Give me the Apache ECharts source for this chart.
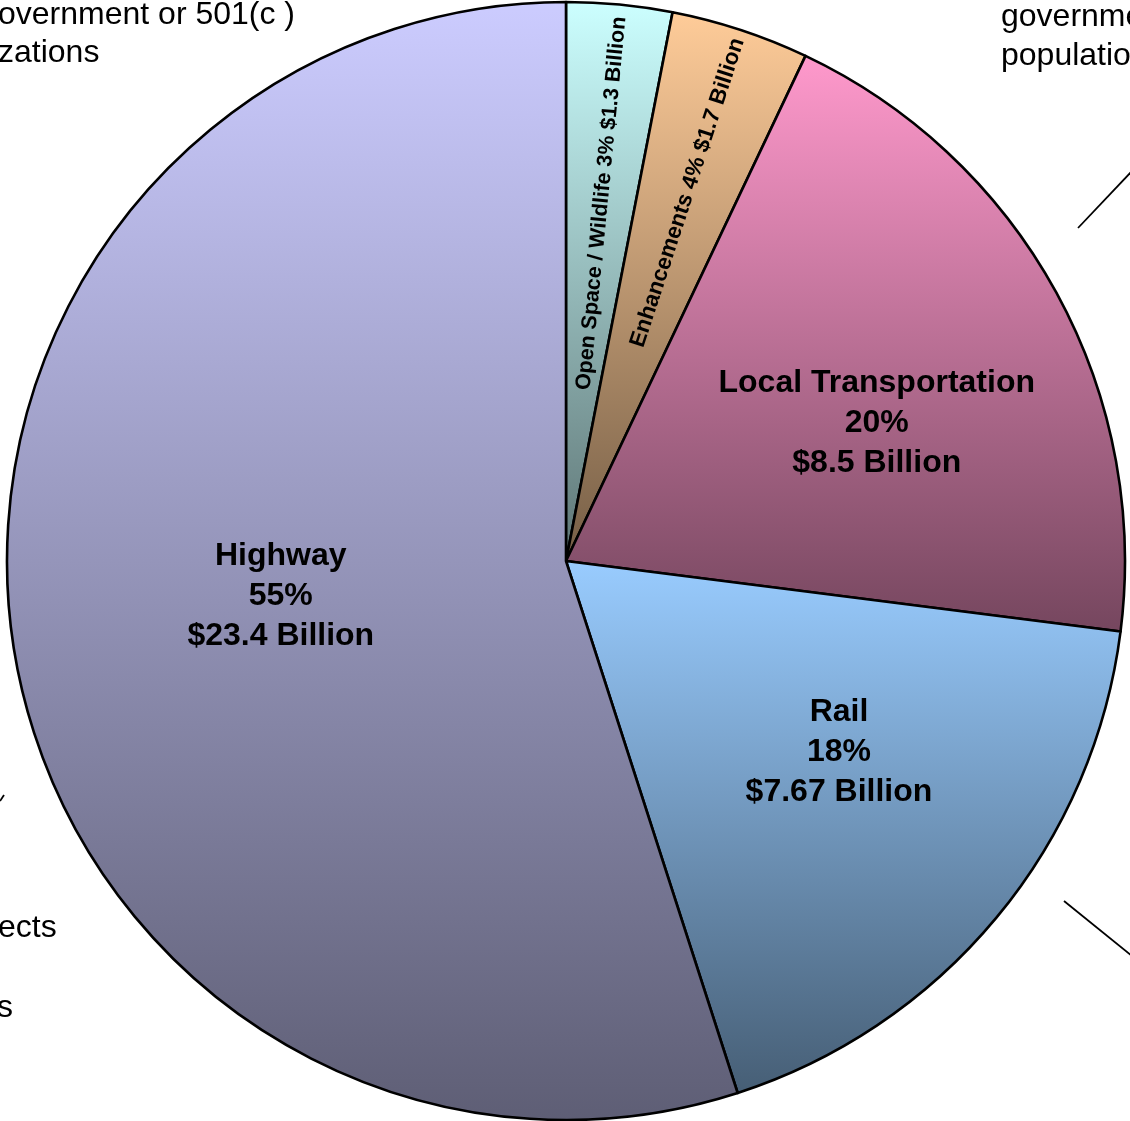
<!DOCTYPE html>
<html>
<head>
<meta charset="utf-8">
<script src="https://cdn.jsdelivr.net/npm/echarts@6/dist/echarts.min.js"></script>
<style>
  html, body { margin: 0; padding: 0; background: #fff; }
  #pie-chart { width: 1130px; height: 1121px; }
</style>
</head>
<body>
<div id="pie-chart"></div>
<script>
// slices, clockwise from 12 o'clock
var categories = ['Open Space / Wildlife', 'Enhancements', 'Local Transportation', 'Rail', 'Highway'];
var billions = [1.3, 1.7, 8.5, 7.67, 23.4];
var percents = [3, 4, 20, 18, 55];

var lightColors = ['#CCFFFF', '#FFCC99', '#FF99CC', '#99CCFF', '#CCCCFF'];
var darkColors = ['#5E7575', '#755E46', '#75465E', '#465E75', '#5E5E75'];

var CX = 566, CY = 561, R = 559;
// where each label sits: share of radius, and nudge off the slice middle (deg)
var labelRadius = [0.643, 0.694, 0.608, 0.596, 0.514];
var labelShift = [0.2, 0.1, 4.8, -4.7, 2];
var labelSize = [21.5, 22.5, 32, 32, 32];

var total = billions.reduce(function (a, b) { return a + b; }, 0);

function labelSpot(i) {
    var before = 0;
    for (var j = 0; j < i; j++) before += billions[j];
    var mid = (before + billions[i] / 2) / total * 360 + labelShift[i];
    var rad = mid * Math.PI / 180;
    var d = R * labelRadius[i];
    return { x: CX + d * Math.sin(rad), y: CY - d * Math.cos(rad) };
}

var pieData = categories.map(function (name, i) {
    var small = i < 2;
    return {
        name: name,
        value: billions[i],
        itemStyle: {
            color: new echarts.graphic.LinearGradient(0, 0, 0, 1, [
                { offset: 0, color: lightColors[i] },
                { offset: 1, color: darkColors[i] }
            ])
        },
        label: small ? {
            rotate: 'radial',
            fontSize: labelSize[i],
            lineHeight: 26
        } : {
            fontSize: labelSize[i],
            lineHeight: 40
        }
    };
});

var myChart = echarts.init(document.getElementById('pie-chart'), null, { renderer: 'canvas' });

var annoFont = '32px "Liberation Sans", Arial, sans-serif';
function note(text, x, y) {
    return {
        type: 'text',
        x: x,
        y: y,
        style: { text: text, font: annoFont, fill: '#000', textVerticalAlign: 'middle' }
    };
}
function stroke(x1, y1, x2, y2) {
    return {
        type: 'line',
        shape: { x1: x1, y1: y1, x2: x2, y2: y2 },
        style: { stroke: '#000', lineWidth: 1.8 }
    };
}

var option = {
    animation: false,
    backgroundColor: '#fff',
    graphic: [
        note('overnment or 501(c )', -2, 15),
        note('zations', -2, 53),
        note('government', 1001, 17),
        note('population', 1001, 56),
        note('ects', -2, 928),
        note('s', -3, 1008),
        stroke(1078, 228, 1132, 171),
        stroke(1064, 901, 1132, 956),
        stroke(0, 801, 4, 795)
    ],
    series: [
        {
            name: 'Funding',
            type: 'pie',
            center: [CX, CY],
            radius: [0, R],
            startAngle: 90,
            clockwise: true,
            avoidLabelOverlap: false,
            emphasis: { disabled: true },
            itemStyle: {
                borderColor: '#000',
                borderWidth: 2.6
            },
            label: {
                show: true,
                position: 'inside',
                color: '#000',
                fontFamily: '"Liberation Sans", Arial, sans-serif',
                fontWeight: 'bold',
                align: 'center',
                formatter: function (p) {
                    var i = p.dataIndex;
                    if (i < 2) {
                        return p.name + ' ' + percents[i] + '% $' + billions[i] + ' Billion';
                    }
                    return p.name + '\n' + percents[i] + '%\n$' + billions[i] + ' Billion';
                }
            },
            labelLine: { show: false },
            labelLayout: function (params) {
                var s = labelSpot(params.dataIndex);
                return { x: s.x, y: s.y, align: 'center', verticalAlign: 'middle' };
            },
            data: pieData
        }
    ]
};

if (option && typeof option === 'object') {
    myChart.setOption(option, true);
}
</script>
</body>
</html>
